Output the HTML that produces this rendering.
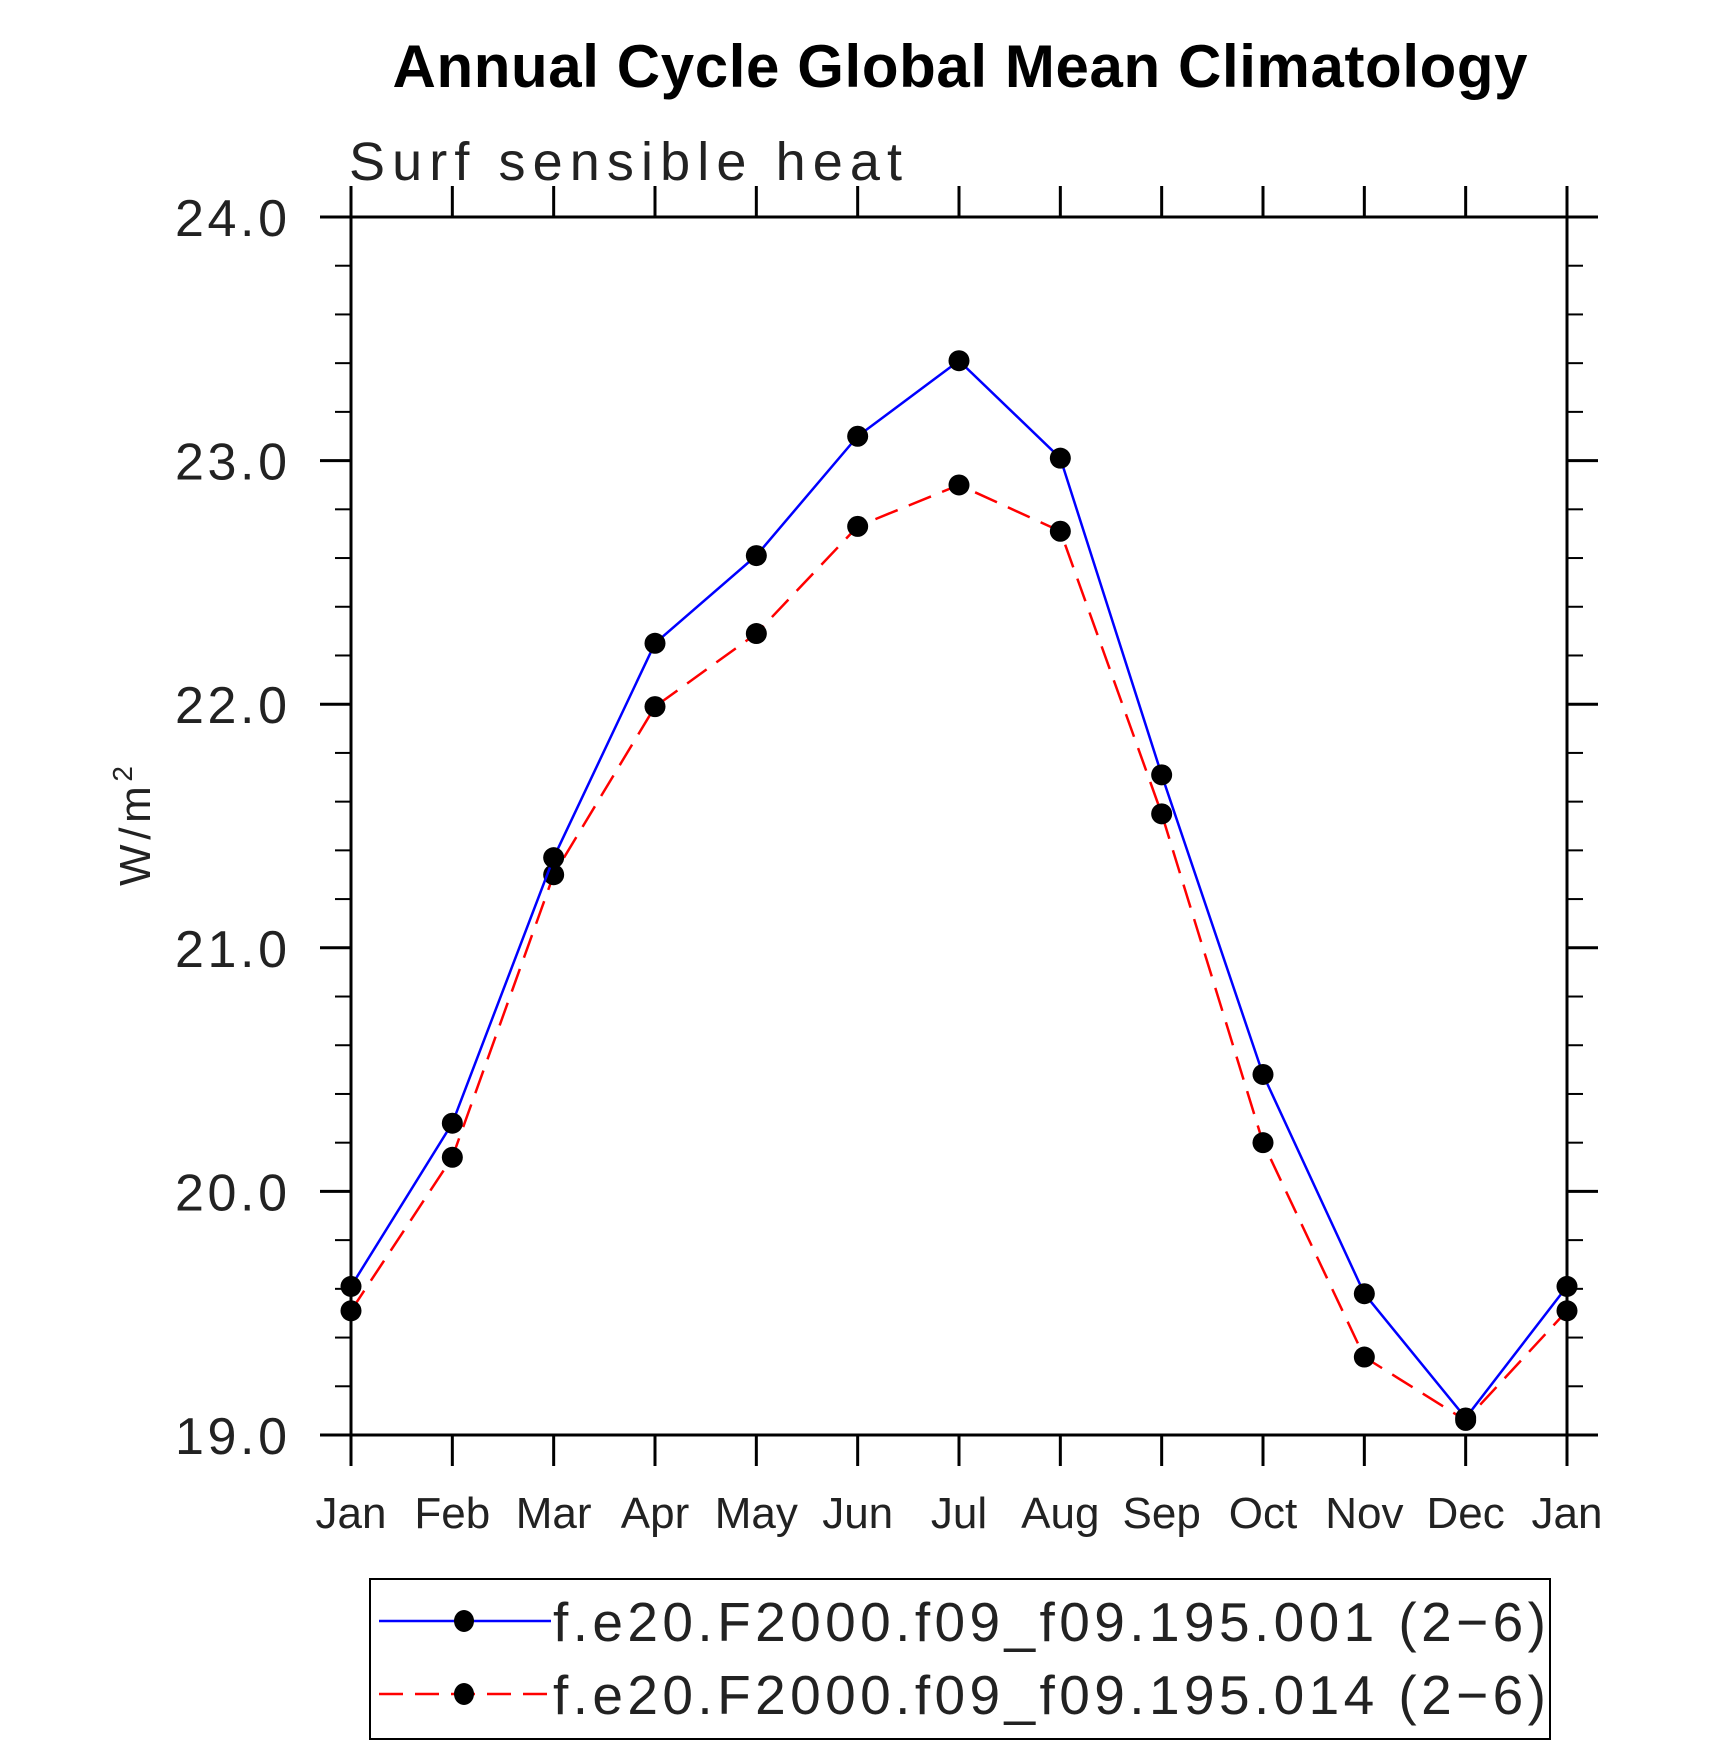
<!DOCTYPE html>
<html><head><meta charset="utf-8"><style>
html,body{margin:0;padding:0;background:#fff;}
svg{display:block;font-family:"Liberation Sans",sans-serif;}
</style></head><body>
<svg id="chart" width="1710" height="1746" viewBox="0 0 1710 1746">
<text x="960" y="87" text-anchor="middle" font-size="60" font-weight="bold" textLength="1135">Annual Cycle Global Mean Climatology</text>
<text x="349" y="180" font-size="54" fill="#222" textLength="553">Surf  sensible  heat</text>
<text transform="translate(150,826) rotate(-90)" text-anchor="middle" font-size="44" fill="#222" textLength="120">W/m<tspan dy="-18" font-size="28">2</tspan></text>
<g id="axes"></g>
<g id="series"></g>
<g>
<rect x="370" y="1579" width="1180" height="160" fill="none" stroke="#000" stroke-width="2"/>
<g>
<line x1="379" y1="1621" x2="551" y2="1621" stroke="#0000ff" stroke-width="2.5"/>
<ellipse cx="464" cy="1621" rx="10" ry="11" fill="#000"/>
<text x="553" y="1641" font-size="55" fill="#222" textLength="993">f.e20.F2000.f09_f09.195.001 (2−6)</text>
</g>
<g>
<line x1="379" y1="1694" x2="551" y2="1694" stroke="#ff0000" stroke-width="2.5" stroke-dasharray="24,12"/>
<ellipse cx="464" cy="1694" rx="10" ry="11" fill="#000"/>
<text x="553" y="1714" font-size="55" fill="#222" textLength="993">f.e20.F2000.f09_f09.195.014 (2−6)</text>
</g>
</g>
</svg>
<script>
const months = ["Jan","Feb","Mar","Apr","May","Jun","Jul","Aug","Sep","Oct","Nov","Dec","Jan"];
const series001 = [19.61,20.28,21.37,22.25,22.61,23.10,23.41,23.01,21.71,20.48,19.58,19.07,19.61];
const series014 = [19.51,20.14,21.30,21.99,22.29,22.73,22.90,22.71,21.55,20.20,19.32,19.06,19.51];
const yTickLabels = ["19.0","20.0","21.0","22.0","23.0","24.0"];
const yMin = 19, yMax = 24;

const NS = "http://www.w3.org/2000/svg";
const L = 351, R = 1567, T = 217, B = 1435;
function xs(i){ return L + (R - L) * i / (months.length - 1); }
function ys(v){ return B - (B - T) * (v - yMin) / (yMax - yMin); }
function mk(tag, attrs, parent){
  const e = document.createElementNS(NS, tag);
  for (const k in attrs) e.setAttribute(k, attrs[k]);
  parent.appendChild(e); return e;
}
const axes = document.getElementById("axes");
const frame = mk("rect", {x:L, y:T, width:R-L, height:B-T, fill:"none", stroke:"#000", "stroke-width":3}, axes);


months.forEach((m, i) => {
  const x = xs(i);
  const t1 = mk("line", {x1:x, y1:B, x2:x, y2:B+31, stroke:"#000", "stroke-width":3}, axes);
  
  
  const t2 = mk("line", {x1:x, y1:T, x2:x, y2:T-31, stroke:"#000", "stroke-width":3}, axes);
  
  
  const lb = mk("text", {x:x, y:1528, "text-anchor":"middle", "font-size":"44", fill:"#222"}, axes);
  lb.textContent = m;
  
  
});
for (let k = 0; k <= 25; k++) {
  const v = yMin + k * 0.2;
  const y = ys(v);
  const major = k % 5 === 0;
  const len = major ? 31 : 16;
  const a = mk("line", {x1:L-len, y1:y, x2:L, y2:y, stroke:"#000", "stroke-width":major?3:2}, axes);
  
  
  const b = mk("line", {x1:R, y1:y, x2:R+len, y2:y, stroke:"#000", "stroke-width":major?3:2}, axes);
  
  
}
yTickLabels.forEach((s) => {
  const y = ys(parseFloat(s));
  const t = mk("text", {x:175, y:y+19, "font-size":"52", fill:"#222", textLength:"112"}, axes);
  t.textContent = s;
  
  
});
const sg = document.getElementById("series");
function draw(vals, color, dash, name){
  const pts = vals.map((v, i) => xs(i) + "," + ys(v)).join(" ");
  const pl = mk("polyline", {points:pts, fill:"none", stroke:color, "stroke-width":2.5, "stroke-dasharray":dash}, sg);
  
  
  vals.forEach((v, i) => {
    const c = mk("circle", {cx:xs(i), cy:ys(v), r:10.5, fill:"#000"}, sg);
    
    
  });
}
draw(series014, "#ff0000", "24,12", "series-014");
draw(series001, "#0000ff", "none", "series-001");
</script>
</body></html>
